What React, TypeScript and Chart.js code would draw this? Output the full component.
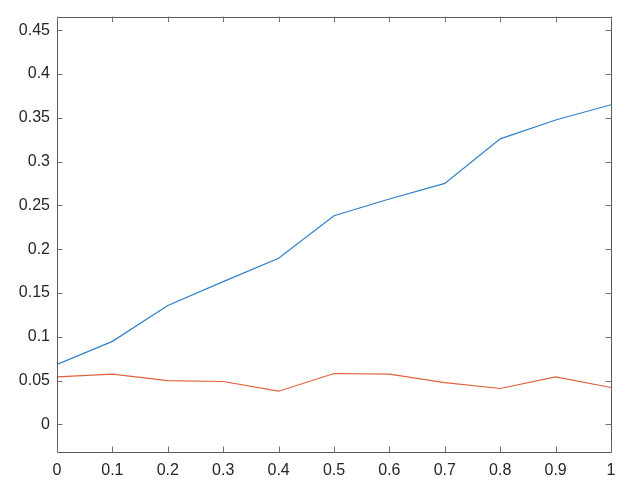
import React, { useEffect, useRef } from "react";
import { Chart, registerables } from "chart.js";

Chart.register(...registerables);

const xValues = [0, 0.1, 0.2, 0.3, 0.4, 0.5, 0.6, 0.7, 0.8, 0.9, 1.0];
const blueValues = [0.0685, 0.0948, 0.1358, 0.163, 0.1897, 0.2383, 0.2573, 0.2752, 0.326, 0.3476, 0.365];
const redValues = [0.0542, 0.0573, 0.0501, 0.049, 0.0379, 0.0581, 0.0573, 0.0477, 0.041, 0.0542, 0.0421];
const xTicks = [0, 0.1, 0.2, 0.3, 0.4, 0.5, 0.6, 0.7, 0.8, 0.9, 1];
const yTicks = [0, 0.05, 0.1, 0.15, 0.2, 0.25, 0.3, 0.35, 0.4, 0.45];

const fmt = (v: number) => String(Number(v.toFixed(2)));

const boxPlugin = {
  id: "matlabBox",
  afterDraw(chart: any) {
    const { ctx, chartArea } = chart;
    const { left, right, top, bottom } = chartArea;
    const xs = chart.scales.x;
    const ys = chart.scales.y;
    const tl = 5.5;
    ctx.save();
    ctx.strokeStyle = "#5a5a5a";
    ctx.lineWidth = 1;
    ctx.beginPath();
    ctx.rect(Math.round(left) + 0.5, Math.round(top) + 0.5, Math.round(right) - Math.round(left), Math.round(bottom) - Math.round(top));
    ctx.stroke();
    ctx.strokeStyle = "#707070";
    ctx.beginPath();
    xTicks.forEach((v) => {
      const px = Math.round(xs.getPixelForValue(v)) + 0.5;
      ctx.moveTo(px, bottom);
      ctx.lineTo(px, bottom - tl);
      ctx.moveTo(px, top);
      ctx.lineTo(px, top + tl);
    });
    yTicks.forEach((v) => {
      const py = Math.round(ys.getPixelForValue(v)) + 0.5;
      ctx.moveTo(left, py);
      ctx.lineTo(left + tl, py);
      ctx.moveTo(right, py);
      ctx.lineTo(right - tl, py);
    });
    ctx.stroke();
    ctx.restore();
  },
};

export default function App() {
  const ref = useRef<HTMLCanvasElement | null>(null);
  useEffect(() => {
    document.body.style.margin = "0";
    if (!ref.current) return;
    const font = { family: "'Liberation Sans', Arial, sans-serif", size: 16 };
    const chart = new Chart(ref.current, {
      type: "line",
      data: {
        datasets: [
          {
            data: xValues.map((x, i) => ({ x, y: blueValues[i] })),
            borderColor: "#2f7fc9",
            borderWidth: 1.2,
            pointRadius: 0,
            tension: 0,
          },
          {
            data: xValues.map((x, i) => ({ x, y: redValues[i] })),
            borderColor: "#e0623a",
            borderWidth: 1.2,
            pointRadius: 0,
            tension: 0,
          },
        ],
      },
      options: {
        responsive: false,
        animation: false,
        layout: { padding: { left: 0, top: 15, right: 24, bottom: 0 } },
        plugins: { legend: { display: false }, tooltip: { enabled: false } },
        scales: {
          x: {
            type: "linear",
            min: 0,
            max: 1,
            grid: { display: false, drawTicks: false },
            border: { display: false },
            afterBuildTicks: (s: any) => {
              s.ticks = xTicks.map((v) => ({ value: v }));
            },
            afterFit: (s: any) => {
              s.height = 41;
            },
            ticks: {
              color: "#262626",
              font,
              padding: 9,
              maxRotation: 0,
              autoSkip: false,
              callback: (v: any) => fmt(Number(v)),
            },
          },
          y: {
            type: "linear",
            min: -0.0315,
            max: 0.4656,
            grid: { display: false, drawTicks: false },
            border: { display: false },
            afterBuildTicks: (s: any) => {
              s.ticks = yTicks.map((v) => ({ value: v }));
            },
            afterFit: (s: any) => {
              s.width = 57;
            },
            ticks: {
              color: "#262626",
              font,
              padding: 7,
              autoSkip: false,
              callback: (v: any) => fmt(Number(v)),
            },
          },
        },
      },
      plugins: [boxPlugin],
    } as any);
    return () => chart.destroy();
  }, []);
  return (
    <div style={{ width: 635, height: 493, background: "#fff" }}>
      <canvas ref={ref} width={635} height={493} />
    </div>
  );
}
